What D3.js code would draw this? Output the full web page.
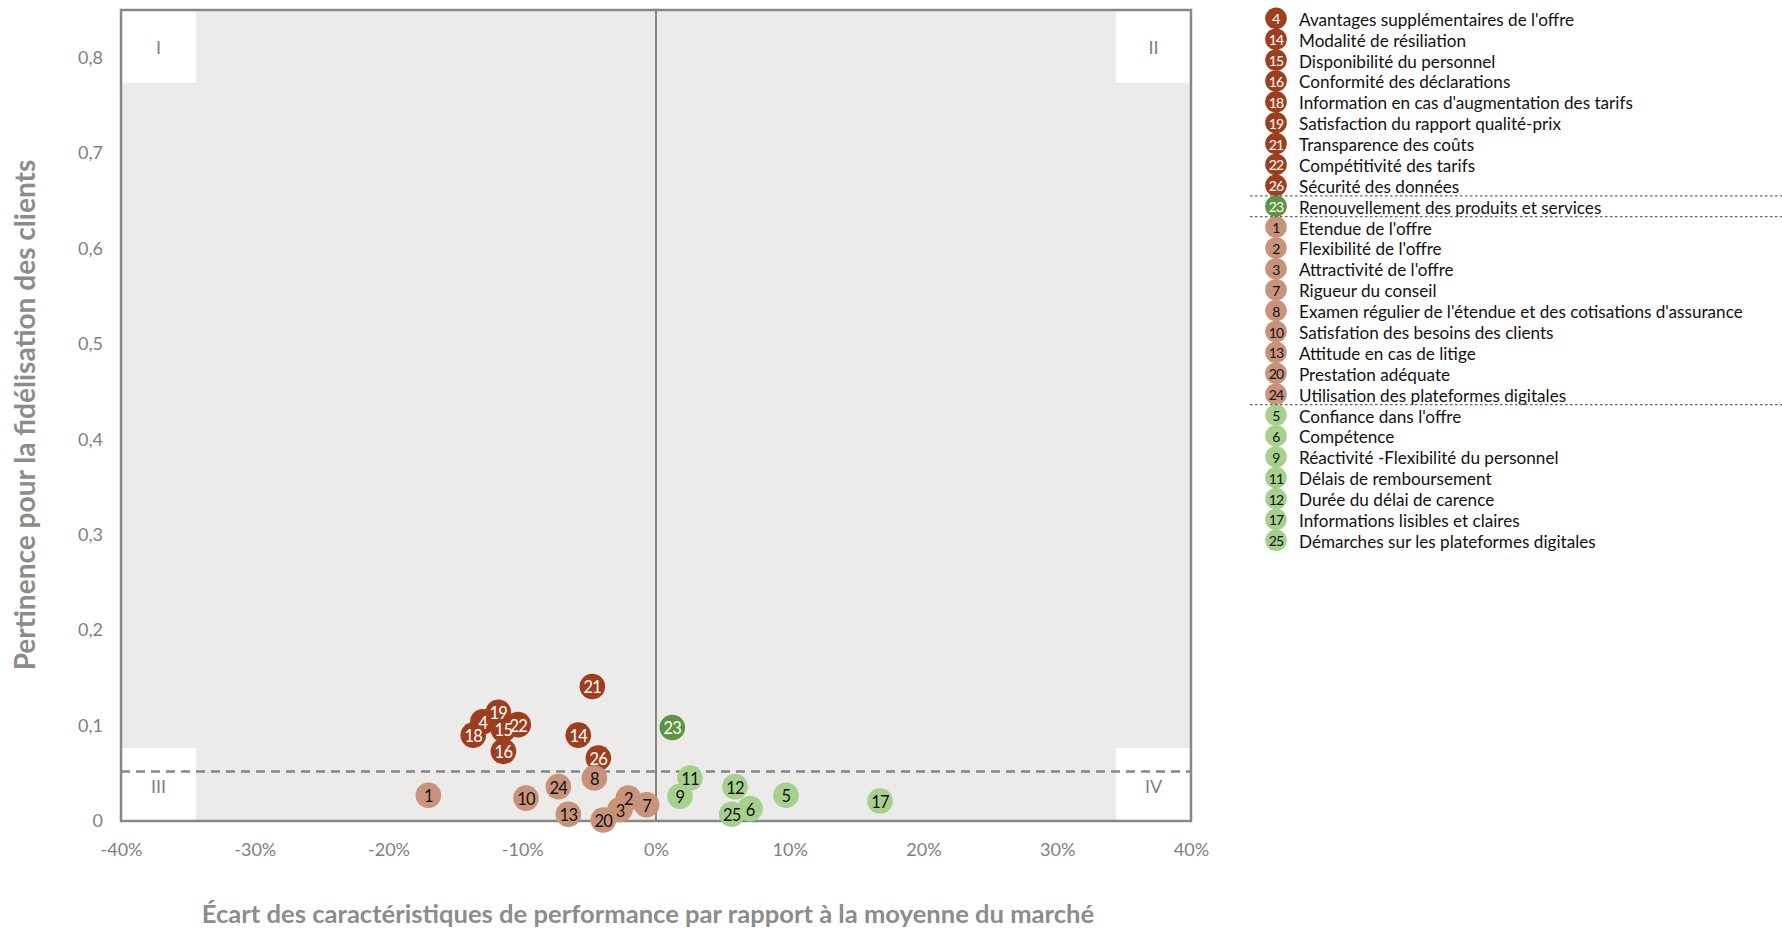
<!DOCTYPE html>
<html><head><meta charset="utf-8">
<script src="https://cdn.jsdelivr.net/npm/d3@7"></script>
<style>
html,body{margin:0;padding:0;background:#fff;}
svg{display:block;font-family:Lato,"Open Sans",sans-serif;}
</style></head>
<body>
<svg id="chart" width="1782" height="933"></svg>
<script>
// ---- data ----
const ids    = [4,14,15,16,18,19,21,22,26, 23, 1,2,3,7,8,10,13,20,24, 5,6,9,11,12,17,25];
const names  = ["Avantages supplémentaires de l'offre","Modalité de résiliation","Disponibilité du personnel","Conformité des déclarations","Information en cas d'augmentation des tarifs","Satisfaction du rapport qualité-prix","Transparence des coûts","Compétitivité des tarifs","Sécurité des données",
  "Renouvellement des produits et services",
  "Etendue de l'offre","Flexibilité de l'offre","Attractivité de l'offre","Rigueur du conseil","Examen régulier de l'étendue et des cotisations d'assurance","Satisfation des besoins des clients","Attitude en cas de litige","Prestation adéquate","Utilisation des plateformes digitales",
  "Confiance dans l'offre","Compétence","Réactivité -Flexibilité du personnel","Délais de remboursement","Durée du délai de carence","Informations lisibles et claires","Démarches sur les plateformes digitales"];
const groups = ["A","A","A","A","A","A","A","A","A", "B", "C","C","C","C","C","C","C","C","C", "D","D","D","D","D","D","D"];
// x: performance gap vs market average (fraction); y: relevance for customer loyalty
const gapX   = [-0.1295,-0.0581,-0.1141,-0.1141,-0.1366,-0.1179,-0.0476,-0.1030,-0.0431, 0.0122, -0.1702,-0.0207,-0.0269,-0.0070,-0.0461,-0.0972,-0.0655,-0.0394,-0.0730, 0.0972,0.0703,0.0179,0.0254,0.0591,0.1675,0.0566];
const relY   = [0.104,0.090,0.096,0.073,0.090,0.114,0.141,0.101,0.066, 0.098, 0.027,0.024,0.012,0.017,0.045,0.024,0.007,0.001,0.036, 0.027,0.013,0.026,0.045,0.036,0.021,0.007];
const xTicks = [-0.4,-0.3,-0.2,-0.1,0,0.1,0.2,0.3,0.4];
const yTicks = [0,0.1,0.2,0.3,0.4,0.5,0.6,0.7,0.8];
const threshold = 0.052;
const quadrantLabels = ["I","II","III","IV"];
const xTitle = "Écart des caractéristiques de performance par rapport à la moyenne du marché";
const yTitle = "Pertinence pour la fidélisation des clients";

const fill = {A:"#9d3f1f", B:"#5d9343", C:"#c9927a", D:"#a7d08e"};
const labelColor = {A:"#ffffff", B:"#ffffff", C:"#111111", D:"#111111"};

const points = ids.map((id,i)=>({id, name:names[i], g:groups[i], x:gapX[i], y:relY[i]}));

const svg = d3.select("#chart");
const L=121, R=1191, T=10, B=821;
const x = d3.scaleLinear().domain([-0.4,0.4]).range([L,R]);
const y = d3.scaleLinear().domain([0,0.85]).range([B,T]);
const grey = "#878787";

// background
svg.append("rect").attr("x",L).attr("y",T).attr("width",R-L).attr("height",B-T).attr("fill","#ecebea");

// quadrant corner boxes
const bw = x(-0.344)-x(-0.4), bh = y(0)-y(0.0765);
const boxes = [
  {lab:quadrantLabels[0], x:L, y:T},
  {lab:quadrantLabels[1], x:R-bw, y:T},
  {lab:quadrantLabels[2], x:L, y:B-bh},
  {lab:quadrantLabels[3], x:R-bw, y:B-bh}
];
svg.selectAll("rect.box").data(boxes).join("rect").attr("class","box")
  .attr("x",d=>d.x).attr("y",d=>d.y).attr("width",bw).attr("height",bh).attr("fill","#fff");
svg.selectAll("text.quad").data(boxes).join("text").attr("class","quad")
  .attr("x",d=>d.x+bw/2).attr("y",d=>d.y+bh/2+1).attr("text-anchor","middle").attr("dominant-baseline","central")
  .attr("font-size",18).attr("fill","#7f7f7f").text(d=>d.lab);

// zero line
svg.append("line").attr("x1",x(0)).attr("x2",x(0)).attr("y1",T).attr("y2",B).attr("stroke",grey).attr("stroke-width",2);
// threshold dashed line
svg.append("line").attr("x1",L).attr("x2",R).attr("y1",y(threshold)).attr("y2",y(threshold))
  .attr("stroke",grey).attr("stroke-width",2.5).attr("stroke-dasharray","9,6");

// frame
svg.append("rect").attr("x",L).attr("y",T).attr("width",R-L).attr("height",B-T).attr("fill","none").attr("stroke",grey).attr("stroke-width",2.5);

// axes
const fmtY = d=> d===0 ? "0" : d3.format(".1f")(d).replace(".",",");
const fmtX = d=> Math.round(d*100)+"%";
const xAxis = svg.append("g").attr("transform",`translate(0,${B})`)
  .call(d3.axisBottom(x).tickValues(xTicks).tickFormat(fmtX).tickSize(0).tickPadding(22));
const yAxis = svg.append("g").attr("transform",`translate(${L},0)`)
  .call(d3.axisLeft(y).tickValues(yTicks).tickFormat(fmtY).tickSize(0).tickPadding(18));
[xAxis,yAxis].forEach(a=>{
  a.select(".domain").remove();
  a.selectAll("text").attr("font-size",18).attr("fill","#7f7f7f").attr("font-family","Lato,sans-serif");
});

// points
const pts = svg.append("g");
pts.selectAll("circle").data(points).join("circle")
  .attr("cx",d=>x(d.x)).attr("cy",d=>y(d.y)).attr("r",12.8).attr("fill",d=>fill[d.g]);
pts.selectAll("text").data(points).join("text")
  .attr("x",d=>x(d.x)).attr("y",d=>y(d.y)+1).attr("text-anchor","middle").attr("dominant-baseline","central")
  .attr("font-size",16.5).attr("letter-spacing",-0.8).attr("fill",d=>labelColor[d.g]).text(d=>d.id);

// axis titles
const xt = svg.append("text").attr("x",648).attr("y",923).attr("text-anchor","middle")
  .attr("font-weight","bold").attr("font-size",21).attr("fill","#8c8c8c").text(xTitle);
const xw = xt.node().getComputedTextLength(); xt.attr("font-size",21*893/xw);
const yt = svg.append("text").attr("transform","translate(35,415) rotate(-90)").attr("text-anchor","middle")
  .attr("font-weight","bold").attr("font-size",21).attr("fill","#8c8c8c").text(yTitle);
const yw = yt.node().getComputedTextLength(); yt.attr("font-size",21*511/yw);

// legend
const ly = d3.scalePoint().domain(ids).range([18.3,540.3]);
const leg = svg.append("g");
const lrows = leg.selectAll("g").data(points).join("g").attr("transform",d=>`translate(1276,${ly(d.id)})`);
lrows.append("circle").attr("r",10.8).attr("fill",d=>fill[d.g]);
lrows.append("text").attr("y",0.5).attr("text-anchor","middle").attr("dominant-baseline","central")
  .attr("font-size",14).attr("letter-spacing",-0.8).attr("fill",d=>labelColor[d.g]).text(d=>d.id);
const ltexts = lrows.append("text").attr("x",23).attr("y",1).attr("dominant-baseline","central")
  .attr("font-size",16).attr("fill","#111").text(d=>d.name);
// fit legend font size to reference width of the longest entry
const longest = ltexts.filter(d=>d.id===8).node().getComputedTextLength();
ltexts.attr("font-size",16*444/longest);

// legend separators
const seps = [(ly(26)+ly(23))/2, (ly(23)+ly(1))/2, (ly(24)+ly(5))/2];
leg.selectAll("line").data(seps).join("line")
  .attr("x1",1250).attr("x2",1782).attr("y1",d=>d).attr("y2",d=>d)
  .attr("stroke","#666").attr("stroke-width",1.2).attr("stroke-dasharray","2.5,2.5");
</script>
</body></html>
